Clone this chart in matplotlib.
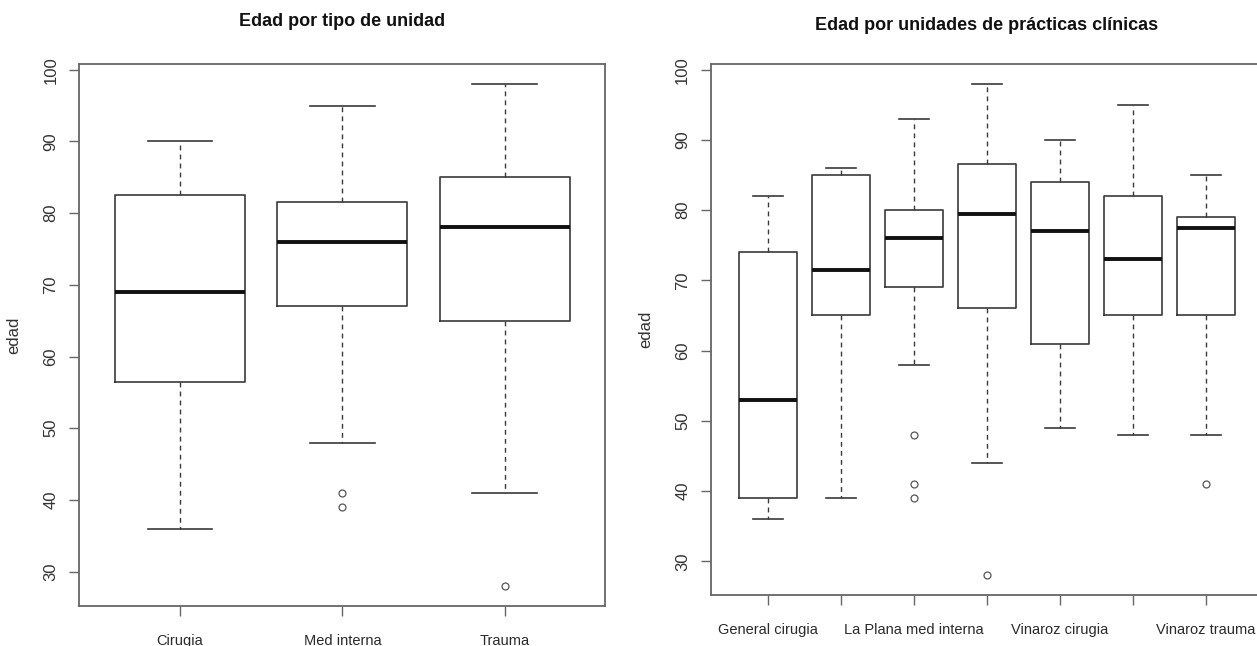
import matplotlib

matplotlib.use("Agg")
import matplotlib.pyplot as plt

plt.rcParams["font.family"] = ["Liberation Sans", "DejaVu Sans"]

# left panel: edad por tipo de unidad
tipo_names = ["Cirugia", "Med interna", "Trauma"]
tipo_whislo = [36, 48, 41]
tipo_q1 = [56.5, 67, 65]
tipo_med = [69, 76, 78]
tipo_q3 = [82.5, 81.5, 85]
tipo_whishi = [90, 95, 98]
tipo_fliers = [[], [41, 39], [28]]

# right panel: edad por unidades de practicas clinicas
unid_names = ["General cirugia", "La Plana cirugia", "La Plana med interna",
              "La Plana trauma", "Vinaroz cirugia", "Vinaroz med interna",
              "Vinaroz trauma"]
unid_whislo = [36, 39, 58, 44, 49, 48, 48]
unid_q1 = [39, 65, 69, 66, 61, 65, 65]
unid_med = [53, 71.5, 76, 79.4, 77, 73, 77.4]
unid_q3 = [74, 85, 80, 86.5, 84, 82, 79]
unid_whishi = [82, 86, 93, 98, 90, 95, 85]
unid_fliers = [[], [], [48, 41, 39], [28], [], [], [41]]

y_ticks = [30, 40, 50, 60, 70, 80, 90, 100]

LINE = "#3a3a3a"
AXC = "#666666"


def make_stats(names, lo, q1, med, q3, hi, fl):
    stats = []
    for i in range(len(names)):
        stats.append({"label": names[i], "whislo": lo[i], "q1": q1[i],
                      "med": med[i], "q3": q3[i], "whishi": hi[i],
                      "fliers": fl[i]})
    return stats


def r_boxplot(ax, stats, labels):
    n = len(stats)
    ax.bxp(stats, positions=range(1, n + 1), widths=0.8, capwidths=0.4,
           boxprops=dict(color=LINE, linewidth=1.2),
           medianprops=dict(color="#111111", linewidth=2.8, solid_capstyle="butt"),
           whiskerprops=dict(color=LINE, linewidth=1.0, linestyle=(0, (3.5, 3))),
           capprops=dict(color=LINE, linewidth=1.2),
           flierprops=dict(marker="o", markerfacecolor="none",
                           markeredgecolor="#555555", markersize=5,
                           markeredgewidth=0.9))
    ax.set_xlim(0.5 - 0.04 * n, n + 0.5 + 0.04 * n)
    ax.set_ylim(25.2, 100.8)
    ax.set_xticks(range(1, n + 1))
    ax.set_xticklabels(labels, fontsize=10.5, color="#2a2a2a")
    ax.set_yticks(y_ticks)
    ax.set_yticklabels([str(v) for v in y_ticks], rotation=90, va="center",
                       fontsize=12, color="#333333")
    ax.tick_params(axis="x", length=7, width=1.0, color=AXC, pad=13)
    ax.tick_params(axis="y", length=7, width=1.0, color=AXC, pad=8)
    for s in ax.spines.values():
        s.set_color(AXC)
        s.set_linewidth(1.3)
    ax.set_ylabel("edad", fontsize=12, color="#333333", labelpad=16)


fig = plt.figure(figsize=(12.57, 6.46), dpi=100)

ax1 = fig.add_axes([0.0631, 0.0619, 0.4186, 0.839])
r_boxplot(ax1, make_stats(tipo_names, tipo_whislo, tipo_q1, tipo_med,
                          tipo_q3, tipo_whishi, tipo_fliers), tipo_names)
fig.text(0.2724, 1 - 22 / 646, "Edad por tipo de unidad", ha="center",
         va="center", fontsize=13, fontweight="bold", color="#111111")

# R drops labels that would overlap, so only every other one shows
shown = [nm if i % 2 == 0 else "" for i, nm in enumerate(unid_names)]
ax2 = fig.add_axes([0.5656, 0.0789, 0.4391, 0.822])
r_boxplot(ax2, make_stats(unid_names, unid_whislo, unid_q1, unid_med,
                          unid_q3, unid_whishi, unid_fliers), shown)
fig.text(0.785, 1 - 25 / 646, "Edad por unidades de prácticas clínicas",
         ha="center", va="center", fontsize=13, fontweight="bold",
         color="#111111")

fig.savefig("out.png", dpi=100)
